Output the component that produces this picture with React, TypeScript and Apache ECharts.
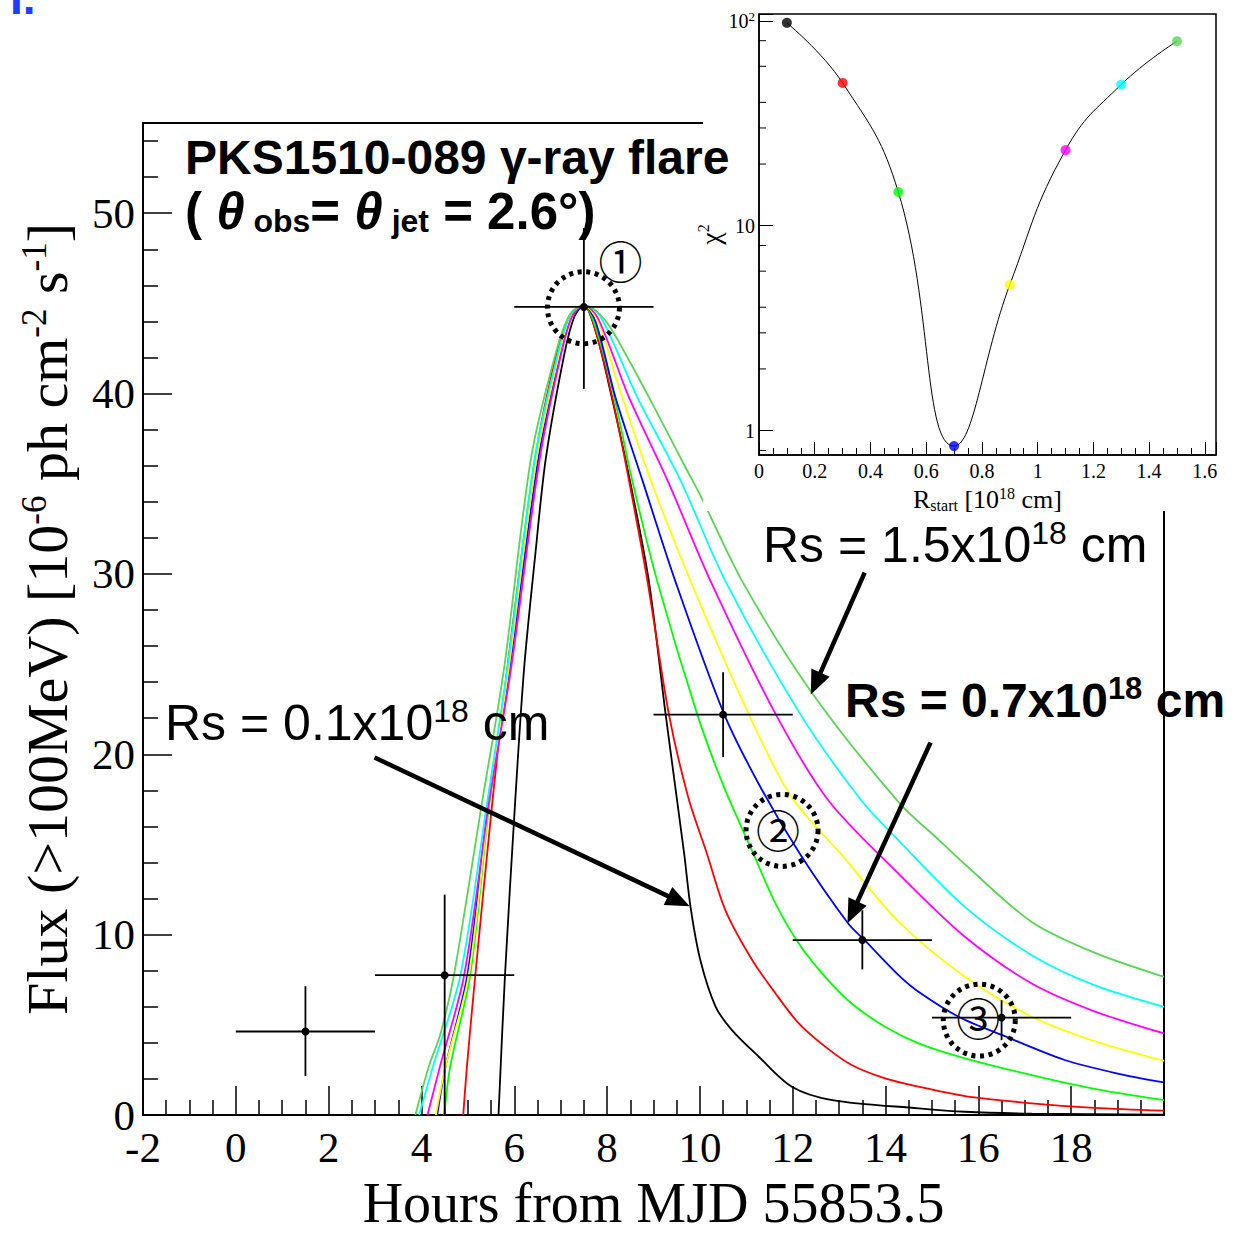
import React, { useEffect, useRef } from "react";
import * as echarts from "echarts";

// ---------------- data ----------------
// model light curves: [hours, flux]
const modelRs01: number[][] = [[5.66,0],[5.8,7.75],[6.02,17.4],[6.21,24.7],[6.45,31],[6.68,36.4],[7.08,42.2],[7.3,44.3],[7.5,44.9],[7.75,43.5],[8.1,39.8],[8.49,35.2],[8.9,29.6],[9.26,22.24],[9.66,14.5],[9.8,11.5],[10.01,8.58],[10.34,6.0],[10.69,4.71],[11.27,3.23],[11.98,1.57],[12.85,0.83],[14.71,0.37],[15.71,0.18],[17.15,0.08],[20,0.02]];
const modelRs03: number[][] = [[4.9,0],[4.98,2.7],[5.16,7.75],[5.53,17.4],[5.85,24.75],[6.45,36.4],[6.92,42.3],[7.2,44.3],[7.5,44.9],[7.75,43.5],[8.11,39.8],[8.47,35.2],[8.87,29.6],[9.33,22.24],[9.75,17.6],[10.15,14.5],[10.55,11.35],[11.13,8.58],[11.63,6.74],[12.13,5.08],[12.7,3.79],[13.27,2.77],[13.99,2.03],[14.71,1.57],[15.71,1.05],[17.15,0.65],[18.5,0.4],[20,0.24]];
const modelRs05: number[][] = [[4.49,0],[4.62,2.7],[5.05,7.75],[5.47,17.4],[5.87,24.75],[6.47,36.4],[6.97,42.3],[7.2,44.3],[7.5,44.9],[7.75,43.7],[8.12,40.2],[8.54,35.2],[9.08,29.6],[9.94,22.24],[10.5,18.3],[11.15,14.5],[11.63,11.72],[12.13,9.51],[12.7,7.66],[13.27,6.18],[13.99,4.89],[14.71,3.97],[15.71,3.14],[17.15,2.21],[18.5,1.45],[20,0.83]];
const modelRs07: number[][] = [[4.34,0],[4.52,2.7],[4.99,7.75],[5.45,17.4],[5.9,24.75],[6.52,36.4],[7.0,42.3],[7.22,44.3],[7.5,44.9],[7.75,44.0],[8.18,39.8],[8.76,35.2],[9.47,29.6],[10.52,22.24],[11.3,18.2],[12.15,14.5],[13.2,10.6],[13.55,9.69],[14.28,7.75],[14.71,6.83],[15.57,5.45],[16.54,4.4],[17.86,3.05],[19,2.3],[20,1.81]];
const modelRs09: number[][] = [[4.31,0],[4.52,2.7],[5.02,7.75],[5.46,17.4],[5.88,24.75],[6.48,36.4],[6.98,42.3],[7.22,44.3],[7.5,44.9],[7.8,44.0],[8.3,40.0],[8.94,35.2],[9.8,29.6],[11.05,22.24],[11.98,17.6],[13.1,14.3],[14.25,10.8],[15.71,7.66],[17.15,5.45],[18.5,4.1],[20,3.0]];
const modelRs11: number[][] = [[4.13,0],[4.4,2.7],[4.92,7.75],[5.46,17.4],[5.93,24.75],[6.55,36.4],[7.02,42.3],[7.25,44.3],[7.5,44.9],[7.8,44.2],[8.47,39.8],[9.3,35.2],[10.23,29.6],[11.63,22.24],[12.77,17.44],[14.28,13.38],[15.71,9.88],[17.15,7.29],[18.5,5.75],[20,4.52]];
const modelRs13: number[][] = [[3.95,0],[4.25,2.7],[4.84,7.75],[5.42,17.4],[5.85,24.75],[6.44,36.4],[6.95,42.3],[7.22,44.4],[7.5,44.9],[7.85,44.3],[8.65,39.8],[9.58,35.2],[10.55,29.6],[12.16,22.24],[13.48,17.44],[14.28,15.23],[15.71,11.54],[17.15,8.86],[18.5,7.2],[20,6.0]];
const modelRs15: number[][] = [[3.87,0],[4.16,2.7],[4.41,4.5],[4.7,7.75],[5.31,17.4],[5.78,24.75],[6.36,36.4],[6.9,42.3],[7.2,44.4],[7.5,44.9],[7.8,44.5],[8.11,43.5],[8.9,39.8],[9.69,35.9],[10.02,34.3],[10.91,29.6],[12.39,23.5],[14.28,17.35],[15.17,15.2],[15.71,13.9],[17.15,10.7],[18.5,9.0],[20,7.66]];

const modelCurves = [modelRs01, modelRs03, modelRs05, modelRs07, modelRs09, modelRs11, modelRs13, modelRs15];
const modelNames = ["Rs=0.1", "Rs=0.3", "Rs=0.5", "Rs=0.7", "Rs=0.9", "Rs=1.1", "Rs=1.3", "Rs=1.5"];
const modelColors = ["#000000", "#ff0000", "#00ff00", "#0000ff", "#ffff00", "#ff00ff", "#00ffff", "#59d454"];

// Fermi data points
const obsTime = [1.5, 4.5, 7.5, 10.5, 13.5, 16.5];
const obsFlux = [4.63, 7.75, 44.8, 22.2, 9.7, 5.4];
const obsTimeLow = [0, 3, 6, 9, 12, 15];
const obsTimeHigh = [3, 6, 9, 12, 15, 18];
const obsFluxLow = [2.16, 0, 40.26, 19.84, 8.07, 4.15];
const obsFluxHigh = [7.14, 12.22, 49.17, 24.55, 11.35, 6.37];

// inset chi2 scan
const rStart = [0.1, 0.3, 0.5, 0.7, 0.9, 1.1, 1.3, 1.5];
const chi2 = [97.8, 49.8, 14.6, 0.84, 5.15, 23.4, 48.9, 79.6];
const chi2MinorTicks = [0.8, 2, 3, 4, 6, 8, 20, 30, 40, 60, 80];

// annotation anchors (data coordinates of the main panel)
const dottedCircleCenters = [[7.49, 44.76], [11.77, 15.78], [16.02, 5.26]];
const circledDigitCenters = [[8.29, 47.39], [11.68, 15.87], [16.0, 5.45]];
const circledDigits = ["\u2460", "\u2461", "\u2462"];
const arrowStarts = [[2.99, 19.82], [13.55, 30.07], [14.97, 20.65]];
const arrowTips = [[9.78, 11.57], [12.39, 23.31], [13.18, 10.63]];

const SERIF = "Liberation Serif";
const SANS = "Liberation Sans";

function buildOption(): any {
  const series: any[] = modelCurves.map((c, i) => ({
    type: "line",
    name: modelNames[i],
    xAxisIndex: 0,
    yAxisIndex: 0,
    data: c,
    showSymbol: false,
    smooth: 0.3,
    clip: true,
    lineStyle: { color: modelColors[i], width: 1.8 },
    z: 2,
  }));
  series.push({
    type: "custom",
    name: "data",
    xAxisIndex: 0,
    yAxisIndex: 0,
    z: 5,
    data: obsTime.map((t, i) => [t, obsFlux[i], obsTimeLow[i], obsTimeHigh[i], obsFluxLow[i], obsFluxHigh[i]]),
    renderItem: (_p: any, api: any) => {
      const x = api.value(0), y = api.value(1);
      const c = api.coord([x, y]);
      const l = api.coord([api.value(2), y]);
      const r = api.coord([api.value(3), y]);
      const b = api.coord([x, api.value(4)]);
      const t = api.coord([x, api.value(5)]);
      return {
        type: "group",
        children: [
          { type: "line", shape: { x1: l[0], y1: l[1], x2: r[0], y2: r[1] }, style: { stroke: "#000", lineWidth: 1.8 } },
          { type: "line", shape: { x1: b[0], y1: b[1], x2: t[0], y2: t[1] }, style: { stroke: "#000", lineWidth: 1.8 } },
          { type: "circle", shape: { cx: c[0], cy: c[1], r: 4 }, style: { fill: "#000" } },
        ],
      };
    },
  });
  // inset
  series.push({
    type: "line",
    xAxisIndex: 1,
    yAxisIndex: 1,
    data: rStart.map((r, i) => [r, chi2[i]]),
    showSymbol: false,
    smooth: 0.45,
    lineStyle: { color: "#000", width: 1 },
    z: 22,
  });
  series.push({
    type: "scatter",
    xAxisIndex: 1,
    yAxisIndex: 1,
    data: rStart.map((r, i) => ({ value: [r, chi2[i]], itemStyle: { color: modelColors[i] } })),
    symbolSize: 10,
    z: 23,
  });
  series.push({
    type: "custom",
    xAxisIndex: 1,
    yAxisIndex: 1,
    z: 23,
    silent: true,
    clip: false,
    data: chi2MinorTicks.map((v) => [0, v]),
    renderItem: (_p: any, api: any) => {
      const p = api.coord([0, api.value(1)]);
      return { type: "line", shape: { x1: p[0], y1: p[1], x2: p[0] + 7, y2: p[1] }, style: { stroke: "#000", lineWidth: 1 } };
    },
  });

  return {
    animation: false,
    backgroundColor: "#ffffff",
    grid: [
      { left: 143, top: 123, width: 1021, height: 992, show: true, borderColor: "#000", borderWidth: 2, backgroundColor: "transparent", outerBoundsMode: "none", z: 0 },
      { left: 759, top: 14, width: 457, height: 441, show: true, borderColor: "#000", borderWidth: 1.5, backgroundColor: "#ffffff", outerBoundsMode: "none", z: 20 },
    ],
    xAxis: [
      {
        gridIndex: 0, type: "value", min: -2, max: 20, interval: 2,
        axisLine: { show: true, onZero: false, lineStyle: { color: "#000", width: 2 } },
        axisTick: { show: true, inside: true, length: 29, lineStyle: { color: "#000", width: 1.5 } },
        minorTick: { show: true, splitNumber: 4, length: 15, lineStyle: { color: "#000", width: 1.5 } },
        splitLine: { show: false },
        axisLabel: { fontFamily: SERIF, fontSize: 43, lineHeight: 32, color: "#000", margin: 16, formatter: (v: number) => (v > 19 ? "" : String(v)) },
        name: "Hours from MJD 55853.5",
        nameLocation: "middle",
        nameGap: 68,
        nameTextStyle: { fontFamily: SERIF, fontSize: 56, lineHeight: 40, color: "#000" },
      },
      {
        gridIndex: 1, type: "value", min: 0, max: 1.64, interval: 0.2, z: 21,
        axisLine: { show: true, onZero: false, lineStyle: { color: "#000", width: 1.5 } },
        axisTick: { show: true, inside: true, length: 13, lineStyle: { color: "#000", width: 1 } },
        minorTick: { show: true, splitNumber: 4, length: 7, lineStyle: { color: "#000", width: 1 } },
        splitLine: { show: false },
        axisLabel: { fontFamily: SERIF, fontSize: 20, color: "#000", margin: 6, formatter: (v: number) => (v > 1.61 ? "" : String(Math.round(v * 10) / 10)) },
        name: "{a|R}{sub|start}{a| [10}{sup|18}{a| cm]}",
        nameLocation: "middle",
        nameGap: 30,
        nameTextStyle: {
          color: "#000",
          rich: {
            a: { fontFamily: SERIF, fontSize: 26, lineHeight: 28, color: "#000" },
            sub: { fontFamily: SERIF, fontSize: 16, lineHeight: 15, verticalAlign: "bottom", color: "#000" },
            sup: { fontFamily: SERIF, fontSize: 16, lineHeight: 15, verticalAlign: "top", color: "#000" },
          },
        },
      },
    ],
    yAxis: [
      {
        gridIndex: 0, type: "value", min: 0, max: 55, interval: 10,
        axisLine: { show: true, onZero: false, lineStyle: { color: "#000", width: 2 } },
        axisTick: { show: true, inside: true, length: 29, lineStyle: { color: "#000", width: 1.5 } },
        minorTick: { show: true, splitNumber: 5, length: 15, lineStyle: { color: "#000", width: 1.5 } },
        splitLine: { show: false },
        axisLabel: { fontFamily: SERIF, fontSize: 43, lineHeight: 30, color: "#000", margin: 8, formatter: (v: number) => (v > 50 ? "" : String(v)) },
        name: "{a|Flux (>100MeV) [10}{s|-6}{a| ph cm}{s|-2}{a| s}{s|-1}{a|]}",
        nameLocation: "middle",
        nameRotate: 90,
        nameGap: 66,
        nameTextStyle: {
          color: "#000",
          rich: {
            a: { fontFamily: SERIF, fontSize: 58, lineHeight: 60, color: "#000" },
            s: { fontFamily: SERIF, fontSize: 35, lineHeight: 34, verticalAlign: "top", color: "#000" },
          },
        },
      },
      {
        gridIndex: 1, type: "log", logBase: 10, min: 0.76, max: 108, z: 21,
        axisLine: { show: true, onZero: false, lineStyle: { color: "#000", width: 1.5 } },
        axisTick: { show: true, inside: true, length: 14, lineStyle: { color: "#000", width: 1 } },
        minorTick: { show: false },
        splitLine: { show: false },
        axisLabel: {
          margin: 4,
          formatter: (v: number) => {
            if (Math.abs(v - 1) < 0.01) return "{b|1}";
            if (Math.abs(v - 10) < 0.1) return "{b|10}";
            if (Math.abs(v - 100) < 1) return "{b|10}{p|2}";
            return "";
          },
          rich: {
            b: { fontFamily: SERIF, fontSize: 20, lineHeight: 22, color: "#000" },
            p: { fontFamily: SERIF, fontSize: 13, lineHeight: 13, verticalAlign: "top", color: "#000" },
          },
        },
        name: "{c|\u03c7}{p|2}",
        nameLocation: "middle",
        nameRotate: 90,
        nameGap: 22,
        nameTextStyle: {
          color: "#000",
          rich: {
            c: { fontFamily: SERIF, fontSize: 28, lineHeight: 30, color: "#000" },
            p: { fontFamily: SERIF, fontSize: 16, lineHeight: 16, verticalAlign: "top", color: "#000" },
          },
        },
      },
    ],
    series,
  };
}

export default function App() {
  const ref = useRef<HTMLDivElement>(null);
  useEffect(() => {
    const chart = echarts.init(ref.current!, undefined, { renderer: "svg" });
    chart.setOption(buildOption());
    const px = (p: number[]) => chart.convertToPixel({ gridIndex: 0 }, p) as number[];

    const g: any[] = [];
    // white pad behind the inset (covers the main frame's top-right part)
    g.push({ type: "rect", z: 15, silent: true, shape: { x: 703, y: 0, width: 541, height: 511 }, style: { fill: "#ffffff" } });

    // dotted circles
    dottedCircleCenters.forEach((c) => {
      const p = px(c);
      g.push({ type: "circle", z: 40, shape: { cx: p[0], cy: p[1], r: 36 }, style: { fill: "none", stroke: "#000", lineWidth: 5, lineDash: [4, 4.6] } });
    });
    // circled digits
    circledDigitCenters.forEach((c, i) => {
      const p = px(c);
      g.push({ type: "text", z: 41, x: p[0], y: p[1], style: { text: circledDigits[i], fontFamily: "Noto Sans CJK JP", fontSize: 44, fill: "#000", align: "center", verticalAlign: "middle" } });
    });
    // arrows
    arrowStarts.forEach((s, i) => {
      const a = px(s), b = px(arrowTips[i]);
      const dx = b[0] - a[0], dy = b[1] - a[1];
      const L = Math.hypot(dx, dy), ux = dx / L, uy = dy / L;
      const hl = 24, hw = 10;
      const bx = b[0] - ux * hl, by = b[1] - uy * hl;
      g.push({ type: "line", z: 40, shape: { x1: a[0], y1: a[1], x2: bx + ux * 3, y2: by + uy * 3 }, style: { stroke: "#000", lineWidth: 4.5 } });
      g.push({ type: "polygon", z: 40, shape: { points: [[b[0], b[1]], [bx - uy * hw, by + ux * hw], [bx + uy * hw, by - ux * hw]] }, style: { fill: "#000" } });
    });

    // texts
    g.push({ type: "text", z: 42, x: 10, y: -25, style: { text: "I.", fontFamily: SANS, fontWeight: "bold", fontSize: 46, fill: "#1f3cff" } });
    g.push({ type: "text", z: 42, x: 185, y: 133, style: { text: "PKS1510-089 \u03b3-ray flare", fontFamily: SANS, fontWeight: "bold", fontSize: 48, fill: "#000" } });
    g.push({
      type: "text", z: 42, x: 185, y: 181,
      style: {
        text: "{p|( }{t|\u03b8}{s| obs}{p|=}{t| \u03b8}{s| jet}{p| = 2.6\u00b0)}",
        rich: {
          p: { fontFamily: SANS, fontWeight: "bold", fontSize: 51, lineHeight: 56, verticalAlign: "bottom", fill: "#000" },
          t: { fontFamily: SANS, fontWeight: "bold", fontStyle: "italic", fontSize: 51, lineHeight: 56, verticalAlign: "bottom", fill: "#000" },
          s: { fontFamily: SANS, fontWeight: "bold", fontSize: 32, lineHeight: 36, verticalAlign: "bottom", fill: "#000" },
        },
      },
    });
    const rsText = (x: number, y: number, val: string, bold: boolean, size: number, supSize: number) => ({
      type: "text", z: 42, x, y,
      style: {
        text: `{a|Rs = ${val}x10}{s|18}{a| cm}`,
        rich: {
          a: { fontFamily: SANS, fontWeight: bold ? "bold" : "normal", fontSize: size, lineHeight: size + 6, fill: "#000" },
          s: { fontFamily: SANS, fontWeight: bold ? "bold" : "normal", fontSize: supSize, lineHeight: supSize, verticalAlign: "top", fill: "#000" },
        },
      },
    });
    g.push(rsText(763, 517, "1.5", false, 50, 32));
    g.push(rsText(845, 673, "0.7", true, 48, 31));
    g.push(rsText(165, 695, "0.1", false, 50, 32));

    chart.setOption({ graphic: { elements: g } });
    return () => chart.dispose();
  }, []);
  return <div ref={ref} style={{ position: "absolute", left: 0, top: 0, width: 1244, height: 1233, background: "#fff" }} />;
}
